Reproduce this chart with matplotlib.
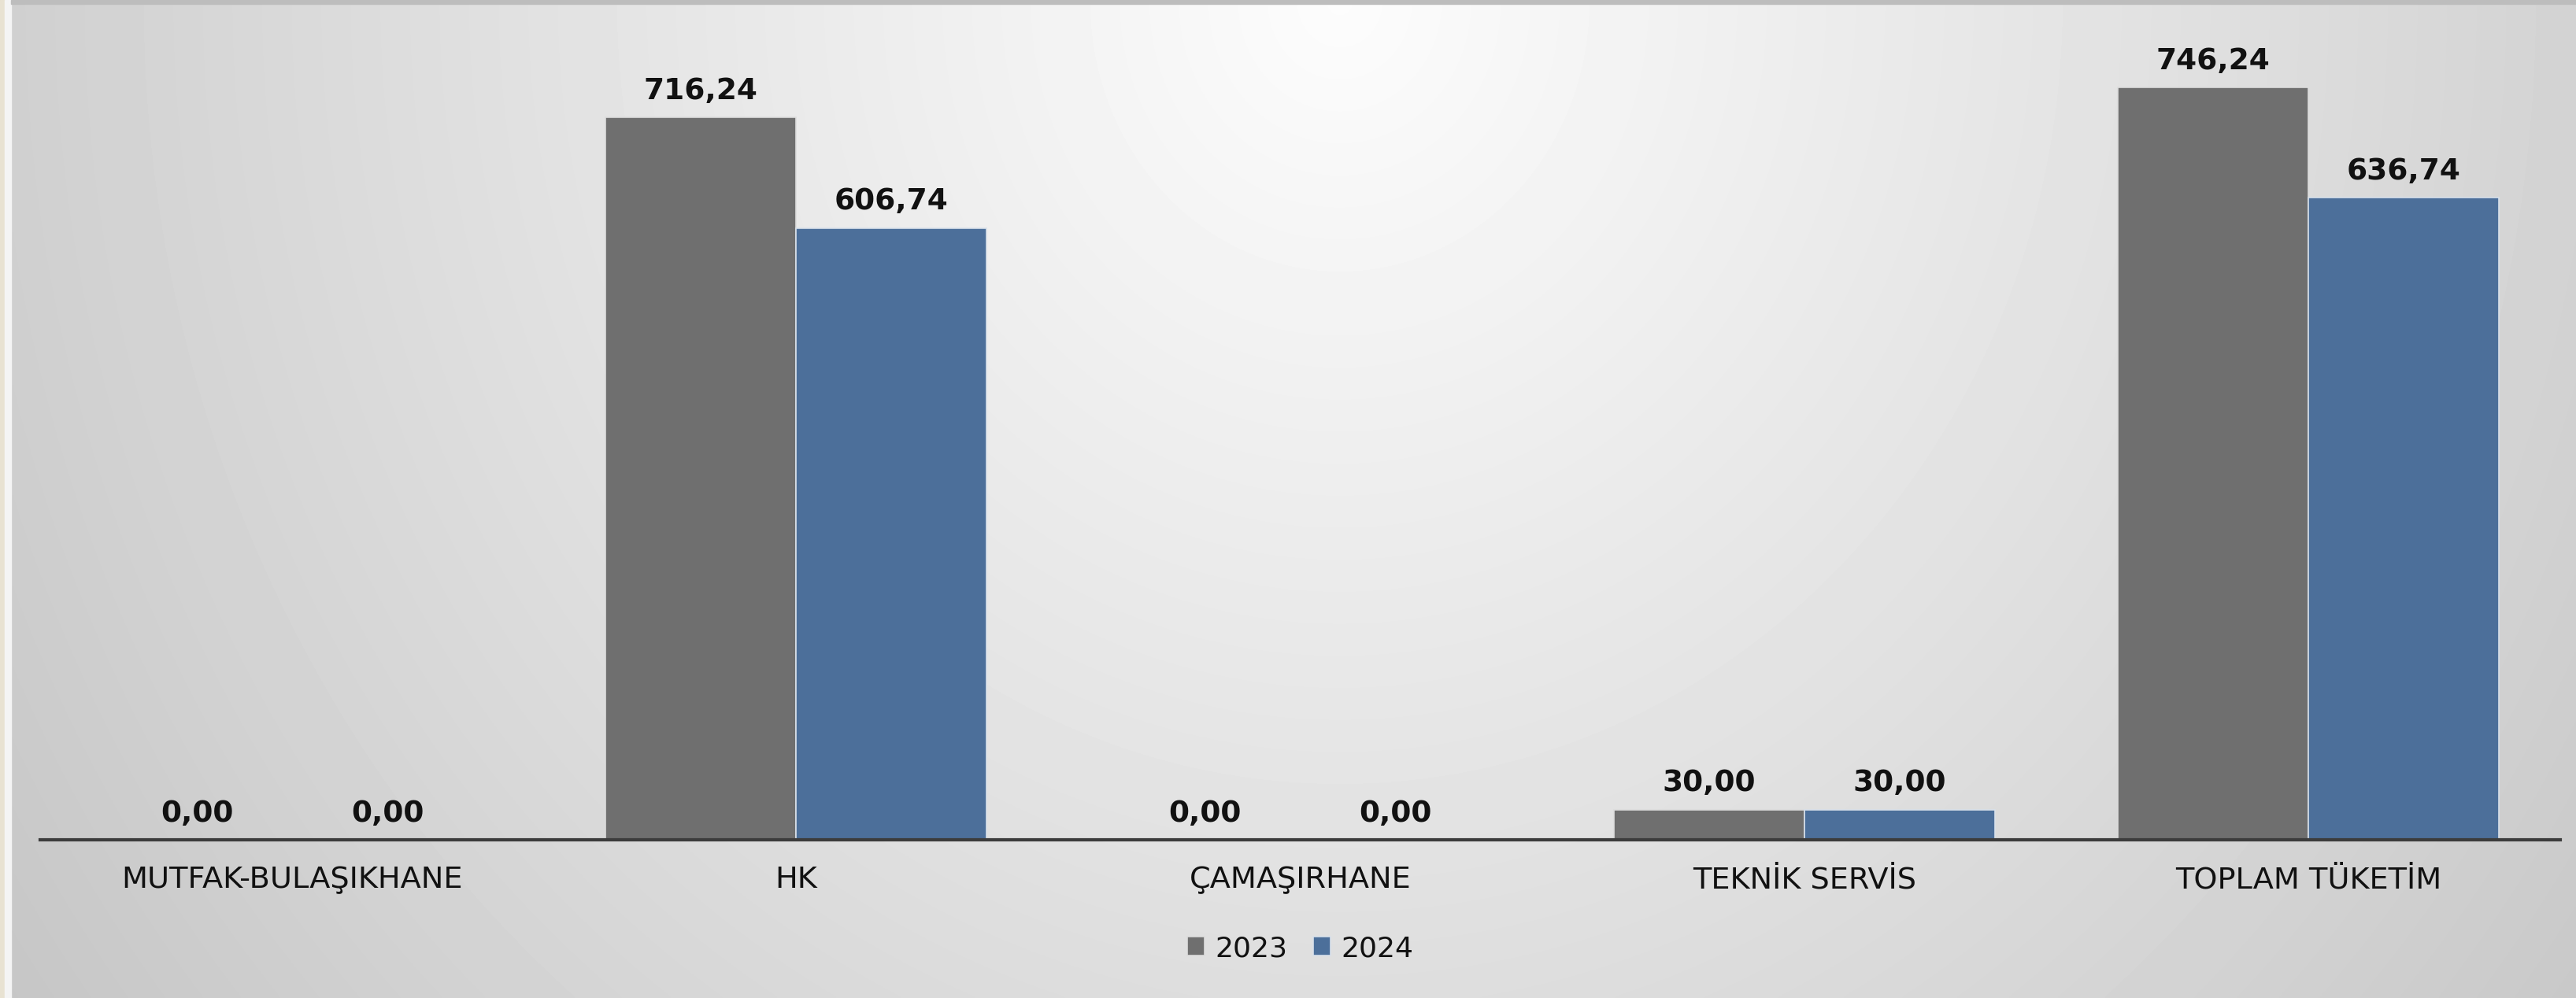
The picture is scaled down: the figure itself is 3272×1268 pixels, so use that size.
import numpy as np
import matplotlib
matplotlib.use("Agg")
import matplotlib.pyplot as plt
from matplotlib.patches import Rectangle

# chart data
categories = ["MUTFAK-BULAŞIKHANE", "HK", "ÇAMAŞIRHANE", "TEKNİK SERVİS", "TOPLAM TÜKETİM"]
years = ["2023", "2024"]
values_2023 = [0.00, 716.24, 0.00, 30.00, 746.24]
values_2024 = [0.00, 606.74, 0.00, 30.00, 636.74]

C2023 = "#6F6F6F"
C2024 = "#4C6F9A"


def fmt(v):
    # turkish style decimal comma
    return f"{v:.2f}".replace(".", ",")


W, H = 3273, 1268
fig = plt.figure(figsize=(W / 100, H / 100), dpi=100)
plt.rcParams["font.family"] = ["DejaVu Sans"]

# radial grey background of the chart area (white near the top centre)
bg = fig.add_axes([0, 0, 1, 1], zorder=-2)
yy, xx = np.mgrid[0:1:400j, 0:1:1000j]
d = np.sqrt(((xx - 0.52) / 0.5) ** 2 + ((yy - 0.0) / 1.4) ** 2)
shade = np.clip(0.99 - 0.17 * d, 0.77, 0.99)
bg.imshow(shade, cmap="gray", vmin=0, vmax=1, aspect="auto",
          extent=[0, 1, 1, 0], interpolation="bicubic")
bg.set_xlim(0, 1)
bg.set_ylim(1, 0)
bg.axis("off")
# sheet edge on the left and border on top
bg.add_patch(Rectangle((0, 0), 6 / W, 1, color="#E8E2D2", zorder=3))
bg.add_patch(Rectangle((6 / W, 0), 8 / W, 1, color="#F4F4F4", zorder=3))
bg.add_patch(Rectangle((14 / W, 0), 1, 5 / H, color="#BDBDBD", zorder=3))

ax = fig.add_axes([51 / W, 1 - 1067 / H, (3252 - 51) / W, (1067 - 42) / H])
ax.set_facecolor("none")

x = np.arange(len(categories))
w = 0.378
b1 = ax.bar(x - w / 2, values_2023, w, color=C2023, edgecolor="#DCDCDC",
            linewidth=1.2, label=years[0], zorder=2)
b2 = ax.bar(x + w / 2, values_2024, w, color=C2024, edgecolor="#D8E0EA",
            linewidth=1.2, label=years[1], zorder=2)

for bars, vals in ((b1, values_2023), (b2, values_2024)):
    ax.bar_label(bars, labels=[fmt(v) for v in vals], padding=11,
                 fontsize=27, fontweight="bold", color="#111111")

ax.set_xlim(-0.5, len(categories) - 0.5)
ax.set_ylim(0, 800)
ax.set_xticks(x)
ax.set_xticklabels(categories, fontsize=27.5, color="#111111")
ax.tick_params(axis="x", length=0, pad=24)
ax.set_yticks([])
for s in ("left", "right", "top"):
    ax.spines[s].set_visible(False)
ax.spines["bottom"].set_color("#3C3C3C")
ax.spines["bottom"].set_linewidth(3)
ax.spines["bottom"].set_zorder(3)

leg = ax.legend(loc="center", bbox_to_anchor=(0.5, (1205 - 1067) / -(1067 - 42)),
                ncol=2, frameon=False, fontsize=26, handlelength=0.62,
                handleheight=0.65, handletextpad=0.36, columnspacing=0.9)
for t in leg.get_texts():
    t.set_color("#111111")

fig.savefig("out.png", dpi=100)
